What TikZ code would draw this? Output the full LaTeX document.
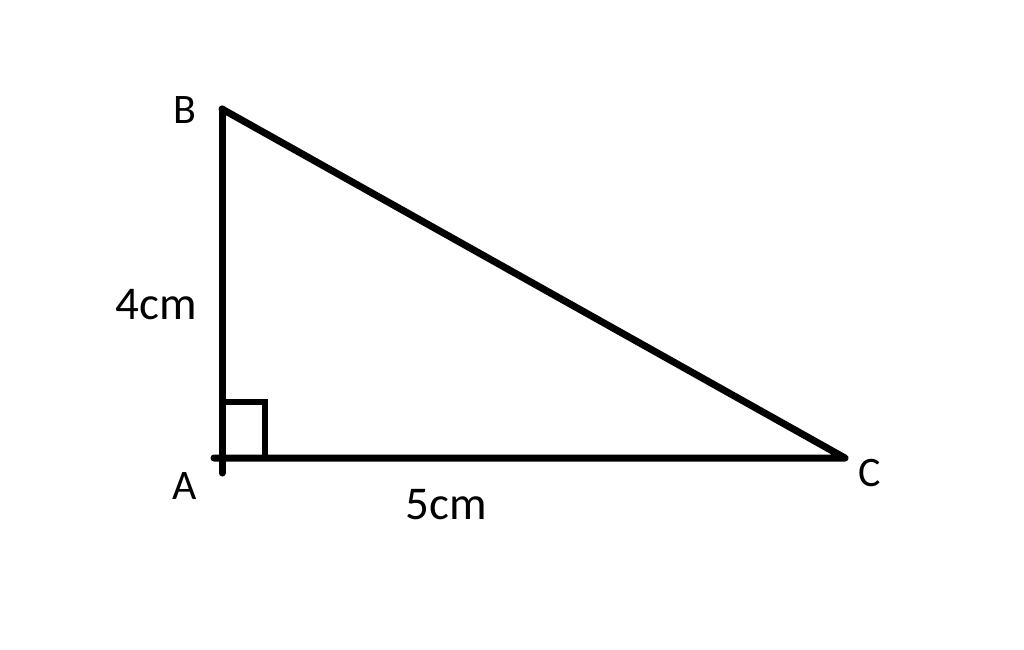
\documentclass[tikz,border=0pt]{standalone}
\usepackage{fontspec}
\setmainfont{Carlito}
\begin{document}
\begin{tikzpicture}[x=1pt,y=-1pt,line width=7pt,line cap=round,line join=round,
    vlbl/.style={font=\fontsize{42}{50}\selectfont},
    lbl/.style={font=\fontsize{47}{56}\selectfont}]
    \useasboundingbox (0,0) rectangle (1024,649);

    \coordinate (A) at (222,458);
    \coordinate (B) at (222,109);
    \coordinate (C) at (845,458);
    \coordinate (Aend) at (222,473);
    \coordinate (Astart) at (214,458);

    \draw (B) -- (Aend);
    \draw (Astart) -- (C) -- (B);

    \draw[line width=6.5pt,line cap=butt,line join=miter] (222,402) -- (265,402) -- (265,458);

    \node[vlbl] (labB) at (185,110) {B};
    \node[vlbl] (labA) at (185,486) {A};
    \node[vlbl] (labC) at (870,473) {C};
    \node[lbl] (labAB) at (156,305) {4cm};
    \node[lbl] (labAC) at (446,505) {5cm};
\end{tikzpicture}
\end{document}
